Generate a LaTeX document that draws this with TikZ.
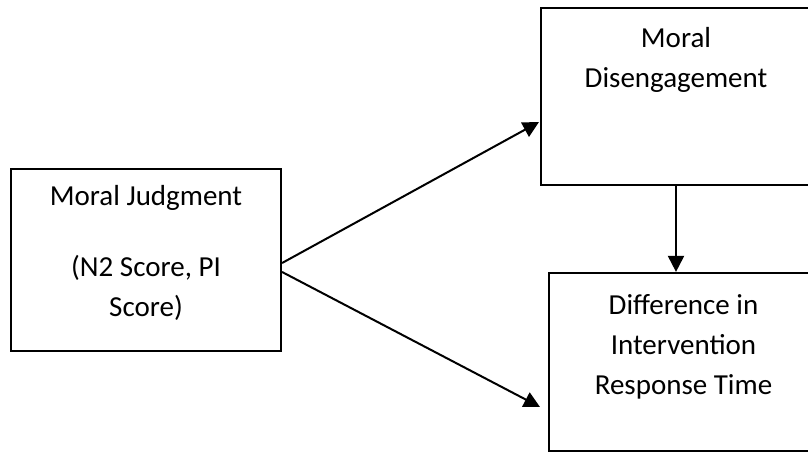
\documentclass[tikz,border=0pt]{standalone}
\usepackage{fontspec}
\setmainfont{Carlito}
\usetikzlibrary{arrows.meta}
\begin{document}
\begin{tikzpicture}[x=0.5pt,y=-0.5pt,
  box/.style={draw,line width=1.1pt,inner sep=0pt},
  lbl/.style={align=center,inner sep=0pt,anchor=base,font=\fontsize{14.5}{20}\selectfont},
  arr/.style={line width=1pt,-{Triangle[length=8pt,width=8pt]}}]
\clip (0,0) rectangle (808,453);

% boxes
\node[box,minimum width=135pt,minimum height=91pt] (judg) at (146,260) {};
\node[box,minimum width=135pt,minimum height=88.5pt] (diseng) at (676,96.5) {};
\node[box,minimum width=134.5pt,minimum height=89pt] (resp) at (683.5,362) {};

% texts (base = last line)
\node[lbl] (judgtxt) at (146,317) {Moral Judgment\\[15.5pt](N2 Score, PI\\Score)};
\node[lbl] (disengtxt) at (676,88) {Moral\\Disengagement};
\node[lbl] (resptxt) at (683.5,395) {Difference in\\Intervention\\Response Time};

% arrows
\coordinate (tipup) at (539,122);
\coordinate (tipdown) at (540,407);
\draw[arr] ([yshift=-1.5pt]judg.east) -- (tipup);
\draw[arr] ([yshift=-6pt]judg.east) -- (tipdown);
\draw[arr] (diseng.south) -- (diseng.south |- resp.north);

\end{tikzpicture}
\end{document}
